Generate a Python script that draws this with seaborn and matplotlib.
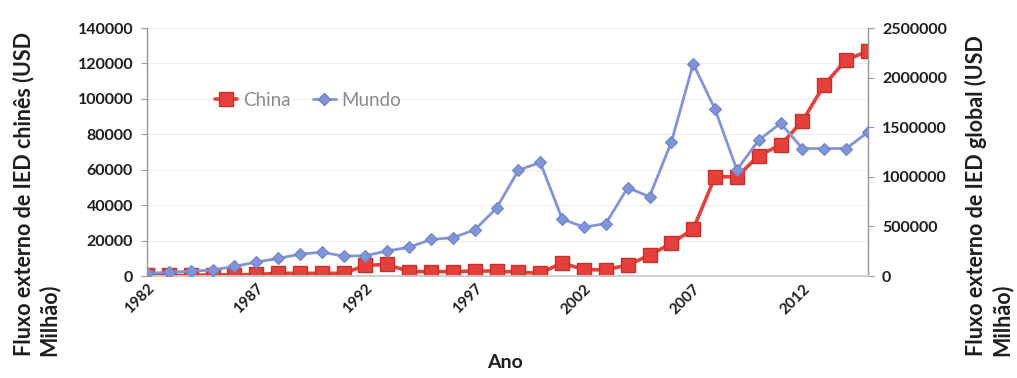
import matplotlib
matplotlib.use("Agg")
import matplotlib.pyplot as plt
import seaborn as sns
import pandas as pd
from matplotlib.lines import Line2D

years = list(range(1982, 2016))
china = [500, 300, 300, 700, 600, 900, 1500, 1500, 1500, 1500, 6000, 6500,
         2500, 2500, 2500, 2800, 2800, 2200, 1500, 7500, 3500, 3500, 6200, 11700,
         18500, 26500, 56000, 56000, 68000, 74000, 87500, 108000, 122000, 127000]
mundo = [28000, 37000, 49000, 60000, 97000, 140000, 177000, 220000, 240000, 200000,
         205000, 253000, 290000, 368000, 387000, 465000, 684000, 1067000, 1145000,
         575000, 492000, 529000, 890000, 800000, 1350000, 2140000, 1680000, 1070000,
         1370000, 1540000, 1285000, 1285000, 1285000, 1450000]
left_ticks = [0, 20000, 40000, 60000, 80000, 100000, 120000, 140000]
right_ticks = [0, 500000, 1000000, 1500000, 2000000, 2500000]
x_ticks = [1982, 1987, 1992, 1997, 2002, 2007, 2012]

df = pd.DataFrame({"Ano": years, "China": china, "Mundo": mundo})

sns.set_theme(style="white")
plt.rcParams['font.family'] = ['Lato', 'DejaVu Sans']

RED = "#e5403b"
RED_EDGE = "#c9302c"
BLUE = "#8194d8"
BLUE_EDGE = "#6f82c8"
TXT = "#1e1e1e"

W, H = 1017, 378
fig = plt.figure(figsize=(W/100, H/100), dpi=100)
ax1 = fig.add_axes([147/W, 1-276/H, (868-147)/W, (276-28)/H])
ax2 = ax1.twinx()

sns.lineplot(data=df, x="Ano", y="China", ax=ax1, color=RED, linewidth=2.6,
             marker="s", markersize=9.5, markeredgecolor=RED_EDGE, markeredgewidth=1,
             zorder=3)
sns.lineplot(data=df, x="Ano", y="Mundo", ax=ax2, color=BLUE, linewidth=2.0,
             marker="D", markersize=6.5, markeredgecolor=BLUE_EDGE, markeredgewidth=0.8,
             zorder=4)

ax1.set_xlim(1982, 2015)
ax1.set_ylim(0, 140000)
ax2.set_ylim(0, 2500000)
ax1.set_xticks(x_ticks)
ax1.set_yticks(left_ticks)
ax2.set_yticks(right_ticks)
ax1.set_xticklabels([str(t) for t in x_ticks], rotation=45, ha="right",
                    rotation_mode="anchor", fontsize=11, fontweight="bold", color=TXT)
ax1.set_yticklabels([str(t) for t in left_ticks], fontsize=11.5, fontweight="bold", color=TXT)
ax2.set_yticklabels([str(t) for t in right_ticks], fontsize=11.5, fontweight="bold", color=TXT)

ax1.grid(axis="y", color="#efefef", linewidth=0.8)
ax1.set_axisbelow(True)
for ax in (ax1, ax2):
    ax.spines["top"].set_visible(False)
    ax.spines["left"].set_color("#9a9a9a")
    ax.spines["right"].set_color("#9a9a9a")
    ax.spines["bottom"].set_color("#d0d0d0")
    ax.spines["left"].set_linewidth(0.9)
    ax.spines["right"].set_linewidth(0.9)
ax1.tick_params(axis="y", length=4, width=0.8, color="#9a9a9a", pad=6)
ax2.tick_params(axis="y", length=4, width=0.8, color="#9a9a9a", pad=6)
ax1.tick_params(axis="x", length=0, pad=4)

ax1.set_xlabel("")
ax1.set_ylabel("")
ax2.set_ylabel("")
fig.text(505/W, 1-363/H, "Ano", fontsize=14, fontweight="bold", color=TXT,
         ha="center", va="center")
fig.text(36/W, 22/H, "Fluxo externo de IED chinês (USD\nMilhão)", rotation=90,
         fontsize=15.5, fontweight="bold", color=TXT, ha="center", va="bottom",
         multialignment="left", linespacing=1.2)
fig.text(989/W, 22/H, "Fluxo externo de IED global (USD\nMilhão)", rotation=90,
         fontsize=15.5, fontweight="bold", color=TXT, ha="center", va="bottom",
         multialignment="left", linespacing=1.2)

handles = [
    Line2D([], [], color=RED, linewidth=2.6, marker="s", markersize=9.5,
           markeredgecolor=RED_EDGE),
    Line2D([], [], color=BLUE, linewidth=2.0, marker="D", markersize=6.5,
           markeredgecolor=BLUE_EDGE),
]
fig.legend(handles, ["China", "Mundo"], loc="center left",
           bbox_to_anchor=(198/W, 1-100/H), ncol=2, frameon=False,
           fontsize=13.5, labelcolor="#8a8a8a", handlelength=1.2,
           handletextpad=0.3, columnspacing=1.2)

fig.savefig("out.png", dpi=100)
